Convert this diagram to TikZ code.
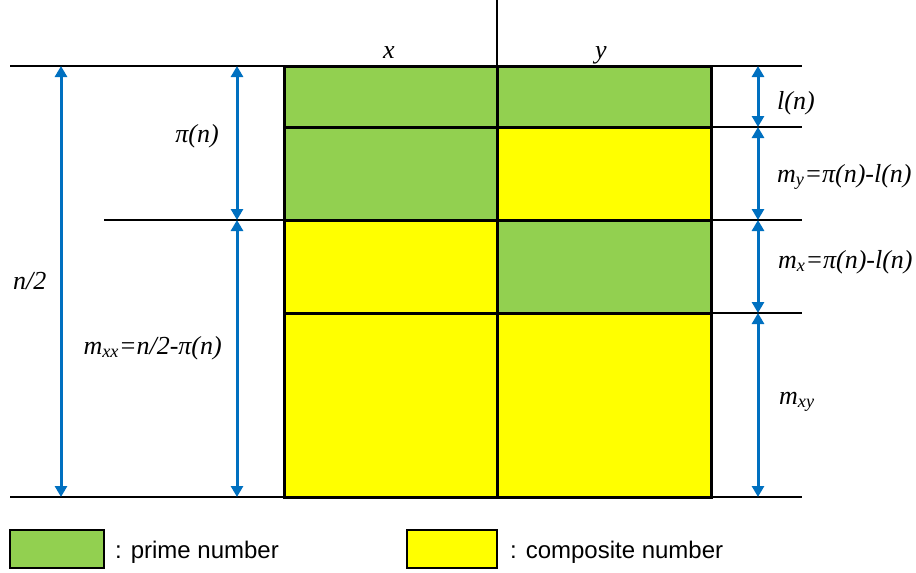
\documentclass[tikz,border=0pt]{standalone}
\usepackage{fontspec}
\setmainfont{Liberation Serif}
\setsansfont{Liberation Sans}
\usetikzlibrary{arrows.meta}
\definecolor{pgreen}{HTML}{92D050}
\definecolor{cyellow}{HTML}{FFFF00}
\definecolor{ablue}{HTML}{0070C0}
\begin{document}
\begin{tikzpicture}[x=1pt,y=-1pt,
  thinline/.style={black,line width=1.5pt},
  gridline/.style={black,line width=3pt},
  dimarrow/.style={ablue,line width=3pt,{Triangle[width=12pt,length=11pt]}-{Triangle[width=12pt,length=11pt]}},
  lbl/.style={font=\fontsize{26}{30}\selectfont\itshape,inner sep=0pt},
  leg/.style={font=\sffamily\fontsize{24}{28}\selectfont,inner sep=0pt,anchor=base west},
  legbox/.style={draw=black,line width=2.5pt}]
\useasboundingbox (0,0) rectangle (916,573);
% cells
\fill[pgreen] (284,66) rectangle (711,127);
\fill[pgreen] (284,127) rectangle (497,220);
\fill[cyellow] (497,127) rectangle (711,220);
\fill[cyellow] (284,220) rectangle (497,313);
\fill[pgreen] (497,220) rectangle (711,313);
\fill[cyellow] (284,313) rectangle (711,497);
% thin guide lines
\draw[thinline] (10,66) -- (284,66);
\draw[thinline] (104,220) -- (284,220);
\draw[thinline] (10,497) -- (284,497);
\foreach \yy in {66,127,220,313,497} \draw[thinline] (711,\yy) -- (802,\yy);
\draw[thinline] (497,0) -- (497,66);
% grid
\draw[gridline] (284,66) rectangle (711,497);
\draw[gridline] (497,66) -- (497,497);
\foreach \yy in {127,220,313} \draw[gridline] (284,\yy) -- (711,\yy);
% coordinates for dimension arrows
\coordinate (A1) at (61,66);
\coordinate (A2) at (61,497);
\coordinate (B1) at (237,66);
\coordinate (B2) at (237,220);
\coordinate (B3) at (237,497);
\coordinate (C1) at (758,66);
\coordinate (C2) at (758,127);
\coordinate (C3) at (758,220);
\coordinate (C4) at (758,313);
\coordinate (C5) at (758,497);
\draw[dimarrow] (A1) -- (A2);
\draw[dimarrow] (B1) -- (B2);
\draw[dimarrow] (B2) -- (B3);
\draw[dimarrow] (C1) -- (C2);
\draw[dimarrow] (C2) -- (C3);
\draw[dimarrow] (C3) -- (C4);
\draw[dimarrow] (C4) -- (C5);
% labels
\node[lbl,anchor=base] (lx) at (389,58) {x};
\node[lbl,anchor=base] (ly) at (601,58) {y};
\node[lbl,anchor=base east] (lpi) at (219,142) {π(n)};
\node[lbl,anchor=base west] (lhalf) at (13,289) {n/2};
\node[lbl,anchor=base east] (lmxx) at (222,354) {m\textsubscript{xx}=n/2-π(n)};
\node[lbl,anchor=base west] (lln) at (777,109) {l(n)};
\node[lbl,anchor=base west] (lmy) at (777,182) {m\textsubscript{y}=π(n)-l(n)};
\node[lbl,anchor=base west] (lmx) at (778,268) {m\textsubscript{x}=π(n)-l(n)};
\node[lbl,anchor=base west] (lmxy) at (779,404) {m\textsubscript{xy}};
% legend
\draw[legbox,fill=pgreen] (10,530) rectangle (104,568);
\draw[legbox,fill=cyellow] (407,530) rectangle (497,568);
\node[leg] (lprime) at (115,558) {: prime number};
\node[leg] (lcomp) at (510,558) {: composite number};
\end{tikzpicture}
\end{document}
